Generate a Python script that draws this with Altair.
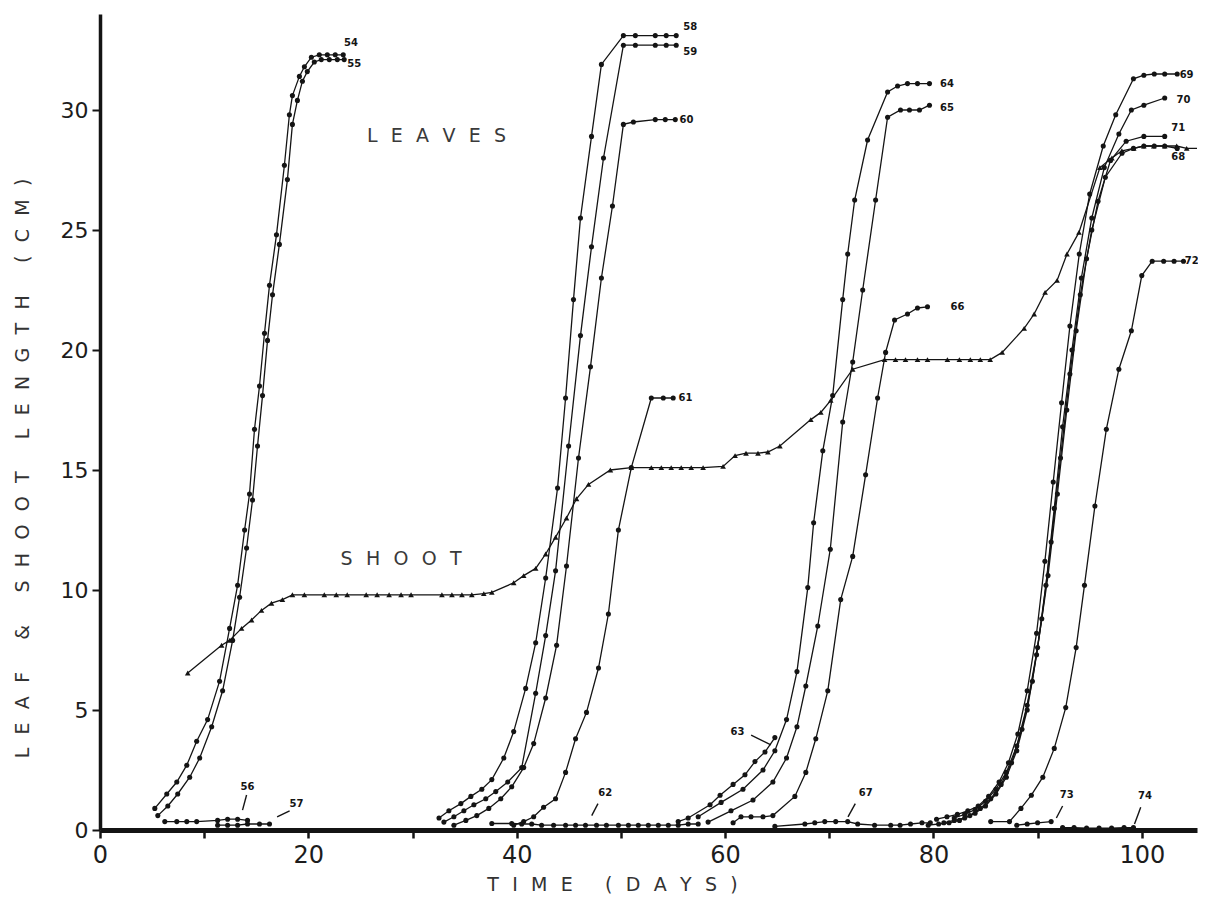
import altair as alt
import pandas as pd

# ---------------- data (day, length cm) ----------------
SHOOT = [[8.42,6.54],[11.67,7.7],[12.44,7.9],[13.59,8.4],[14.55,8.75],[15.50,9.15],[16.46,9.45],[17.51,9.6],
         [18.47,9.8],[19.62,9.8],[21.53,9.8],[22.68,9.8],[23.73,9.8],[25.55,9.8],[26.60,9.8],[27.75,9.8],
         [28.90,9.8],[29.86,9.8],[32.82,9.8],[33.78,9.8],[34.74,9.8],[35.69,9.8],[36.84,9.85],[37.61,9.9],
         [39.71,10.3],[40.67,10.6],[41.82,10.9],[42.78,11.5],[43.73,12.2],[44.78,13.0],[45.74,13.8],[46.89,14.4],
         [48.99,15.0],[51.00,15.1],[52.92,15.1],[53.88,15.1],[54.83,15.1],[55.79,15.1],[56.75,15.1],[57.89,15.1],
         [59.81,15.15],[60.96,15.6],[62.01,15.7],[63.16,15.7],[64.11,15.75],[65.26,16.0],[68.23,17.1],[69.19,17.4],
         [70.14,17.9],[72.25,19.2],[75.31,19.6],[76.36,19.6],[77.32,19.6],[78.47,19.6],[79.43,19.6],[81.34,19.6],
         [82.49,19.6],[83.54,19.6],[84.50,19.6],[85.45,19.6],[86.60,19.9],[88.71,20.9],[89.67,21.5],[90.72,22.4],
         [91.87,22.9],[92.82,24.0],[93.97,24.9],[95.98,27.6],[97.13,28.0],[98.09,28.3],[99.23,28.4],[100.19,28.5],
         [101.15,28.5],[102.20,28.5],[103.35,28.5],[104.31,28.4],[105.3,28.4]]

L54 = [[5.26,0.9],[6.41,1.5],[7.37,2.0],[8.33,2.7],[9.28,3.7],[10.33,4.6],[11.48,6.2],[12.44,8.4],[13.21,10.2],
       [13.88,12.5],[14.35,14.0],[14.83,16.7],[15.31,18.5],[15.79,20.7],[16.27,22.7],[16.94,24.8],[17.70,27.7],
       [18.18,29.8],[18.47,30.6],[19.14,31.4],[19.62,31.8],[20.29,32.2],[21.05,32.3],[21.82,32.3],[22.58,32.3],[23.35,32.3]]
L55 = [[5.55,0.6],[6.51,1.0],[7.46,1.5],[8.61,2.2],[9.57,3.0],[10.72,4.3],[11.77,5.8],[12.73,7.9],[13.40,9.7],
       [14.07,11.75],[14.64,13.75],[15.12,16.0],[15.60,18.1],[16.08,20.4],[16.56,22.3],[17.22,24.4],[17.99,27.1],
       [18.47,29.4],[18.95,30.4],[19.43,31.2],[19.90,31.6],[20.57,32.0],[21.24,32.1],[22.01,32.1],[22.78,32.1],[23.44,32.1]]
L56 = [[6.22,0.35],[7.37,0.35],[8.33,0.35],[9.28,0.35],[11.29,0.4],[12.25,0.45],[13.21,0.45],[14.16,0.4]]
L57 = [[11.29,0.2],[12.25,0.2],[13.21,0.2],[14.16,0.25],[15.31,0.25],[16.27,0.25]]

L58 = [[32.54,0.5],[33.49,0.8],[34.64,1.1],[35.60,1.4],[36.65,1.7],[37.61,2.1],[38.76,3.0],[39.71,4.1],[40.86,5.9],
       [41.82,7.8],[42.78,10.5],[43.92,14.25],[44.69,18.0],[45.45,22.1],[46.12,25.5],[47.18,28.9],[48.13,31.9],
       [50.24,33.1],[51.39,33.1],[53.30,33.1],[54.35,33.1],[55.31,33.1]]
L59 = [[33.01,0.33],[33.97,0.55],[34.93,0.8],[35.89,1.05],[37.03,1.3],[37.99,1.6],[39.14,2.0],[40.48,2.6],[41.82,5.7],
       [42.78,8.1],[43.73,10.8],[44.98,16.0],[46.12,20.6],[47.18,24.3],[48.33,28.0],[50.24,32.7],[51.39,32.7],
       [53.30,32.7],[54.35,32.7],[55.31,32.7]]
L60 = [[33.97,0.2],[35.12,0.4],[36.17,0.6],[37.32,0.9],[38.47,1.3],[39.52,1.8],[40.67,2.6],[41.63,3.6],[42.78,5.5],
       [43.83,7.7],[44.78,11.0],[45.93,15.5],[47.08,19.3],[48.13,23.0],[49.19,26.0],[50.24,29.4],[51.20,29.5],
       [53.30,29.6],[54.26,29.6],[55.22,29.6]]
L61 = [[39.71,0.2],[40.67,0.35],[41.63,0.55],[42.58,0.95],[43.73,1.3],[44.69,2.4],[45.65,3.8],[46.70,4.9],[47.85,6.75],
       [48.80,9.0],[49.76,12.5],[51.00,15.1],[52.92,18.0],[54.07,18.0],[55.02,18.0]]
L62 = [[37.61,0.27],[39.52,0.27],[40.48,0.25],[41.44,0.25],[42.39,0.2],[43.54,0.2],[44.69,0.2],[45.65,0.2],[46.60,0.2],
       [47.66,0.2],[48.61,0.2],[49.76,0.2],[50.72,0.2],[51.67,0.2],[52.63,0.2],[53.59,0.2],[54.55,0.2],[55.50,0.2],
       [56.46,0.25],[57.42,0.25]]

L63 = [[55.5,0.35],[56.46,0.5],[58.56,1.05],[59.52,1.45],[60.77,1.9],[61.91,2.3],[62.87,2.85],[63.83,3.25],[64.78,3.85]]
L64 = [[57.42,0.55],[59.62,1.15],[61.72,1.7],[63.64,2.5],[64.78,3.3],[65.9,4.6],[66.9,6.6],[67.94,10.1],[68.5,12.8],
       [69.38,15.8],[70.33,18.1],[71.29,22.1],[71.77,24.0],[72.44,26.25],[73.68,28.75],[75.60,30.75],[76.56,31.0],
       [77.51,31.1],[78.47,31.1],[79.62,31.1]]
L65 = [[58.37,0.33],[60.57,0.8],[62.68,1.25],[64.59,2.0],[65.9,3.0],[66.9,4.3],[67.75,6.0],[68.9,8.5],[70.1,11.7],
       [71.29,17.0],[72.25,19.5],[73.21,22.5],[74.45,26.25],[75.60,29.7],[76.84,30.0],[77.70,30.0],[78.66,30.0],[79.62,30.2]]
L66 = [[60.77,0.3],[61.53,0.55],[62.49,0.55],[63.64,0.55],[64.59,0.6],[66.70,1.4],[67.75,2.4],[68.71,3.8],[69.86,5.8],
       [71.10,9.6],[72.25,11.4],[73.49,14.8],[74.64,18.0],[75.41,19.9],[76.27,21.25],[77.51,21.5],[78.47,21.75],[79.43,21.8]]
L67 = [[64.78,0.15],[67.66,0.25],[68.61,0.3],[69.57,0.35],[70.62,0.35],[71.77,0.35],[72.73,0.25],[74.35,0.2],
       [75.9,0.2],[76.8,0.2],[77.8,0.25],[78.9,0.3],[79.7,0.3]]

L68 = [[79.5,0.2],[80.5,0.25],[81.5,0.3],[82.5,0.4],[83.5,0.6],[84.5,0.9],[85.5,1.3],[86.5,1.9],[87.5,2.8],[88.5,4.2],
       [89.5,6.2],[90.4,8.8],[91.3,12.0],[92.2,15.5],[93.1,19.0],[94.1,22.3],[95.2,25.0],[96.5,27.2],[98.1,28.2],
       [99.2,28.4],[100.2,28.5],[101.2,28.5],[102.2,28.5],[103.4,28.4]]
L69 = [[80.3,0.45],[81.3,0.55],[82.3,0.65],[83.3,0.8],[84.3,1.0],[85.3,1.4],[86.3,2.0],[87.2,2.8],[88.1,4.0],[89.0,5.8],
       [89.9,8.2],[90.7,11.2],[91.5,14.5],[92.3,17.8],[93.1,21.0],[94.0,24.0],[95.0,26.5],[96.3,28.5],[97.5,29.8],
       [99.2,31.3],[100.2,31.45],[101.2,31.5],[102.2,31.5],[103.4,31.5]]
L70 = [[81.0,0.3],[82.0,0.4],[83.0,0.5],[84.0,0.7],[85.0,1.0],[86.0,1.5],[87.0,2.2],[88.0,3.3],[89.0,5.0],[89.9,7.3],
       [90.8,10.2],[91.6,13.4],[92.4,16.8],[93.3,20.0],[94.2,23.0],[95.2,25.5],[96.4,27.6],[97.8,29.0],[99.0,30.0],
       [100.2,30.2],[102.2,30.5]]
L71 = [[82.0,0.5],[83.0,0.65],[84.0,0.85],[85.0,1.2],[86.0,1.7],[87.0,2.4],[88.0,3.5],[89.0,5.2],[90.0,7.6],[91.0,10.6],
       [91.9,14.0],[92.8,17.5],[93.7,20.8],[94.7,23.8],[95.8,26.2],[97.0,27.9],[98.5,28.7],[100.2,28.9],[102.2,28.9]]
L72 = [[85.5,0.35],[87.3,0.35],[88.4,0.9],[89.4,1.45],[90.5,2.2],[91.6,3.4],[92.7,5.1],[93.7,7.6],[94.5,10.2],[95.5,13.5],
       [96.6,16.7],[97.8,19.2],[99.0,20.8],[100.0,23.1],[101.0,23.7],[102.1,23.7],[103.1,23.7],[104.0,23.7]]
L73 = [[88.0,0.2],[89.0,0.25],[90.0,0.3],[91.3,0.35]]
L74 = [[92.4,0.1],[93.5,0.1],[94.7,0.08],[95.9,0.08],[97.1,0.08],[98.3,0.1],[99.2,0.1]]

LEAVES = {"54": L54, "55": L55, "56": L56, "57": L57, "58": L58, "59": L59, "60": L60, "61": L61,
          "62": L62, "63": L63, "64": L64, "65": L65, "66": L66, "67": L67, "68": L68, "69": L69,
          "70": L70, "71": L71, "72": L72, "73": L73, "74": L74}

TAG_TEXT = ["54", "55", "56", "57", "58", "59", "60", "61", "62", "63", "64", "65", "66", "67",
            "69", "70", "71", "68", "72", "73", "74"]
TAG_DAY = [24.1, 24.4, 14.16, 18.85, 56.65, 56.65, 56.3, 56.2, 48.5, 61.2, 81.3, 81.3, 82.3, 73.5,
           104.3, 104.0, 103.5, 103.5, 104.8, 92.8, 100.3]
TAG_CM = [32.8, 31.9, 1.8, 1.1, 33.45, 32.4, 29.6, 18.0, 1.55, 4.1, 31.1, 30.1, 21.8, 1.55,
          31.45, 30.4, 29.25, 28.05, 23.7, 1.45, 1.4]

# leader strokes: start day, start cm, end day, end cm
LEAD_D1 = [13.68, 17.0, 47.2, 62.5, 71.8, 91.8, 99.3]
LEAD_C1 = [0.83, 0.55, 0.6, 3.95, 0.55, 0.5, 0.25]
LEAD_D2 = [14.07, 18.2, 47.8, 64.4, 72.5, 92.4, 99.9]
LEAD_C2 = [1.46, 0.8, 1.1, 3.55, 1.1, 1.0, 0.95]

WORD_TEXT = ["LEAVES", "SHOOT"]
WORD_DAY = [32.3, 28.9]
WORD_CM = [28.9, 11.3]

X_TICKS = [0, 10, 20, 30, 40, 50, 60, 70, 80, 90, 100]
Y_TICKS = [0, 5, 10, 15, 20, 25, 30]

GAP = "\u2002\u2009"        # letter spacing
WORD_GAP = "\u2003\u2002\u2009"  # word spacing


def spaced(s):
    return WORD_GAP.join(GAP.join(w) for w in s.split(" "))


# ---------------- tables ----------------
leaf_rows = []
for name, pts in LEAVES.items():
    for d, c in pts:
        leaf_rows.append({"s": name, "day": d, "cm": c})
leaf_df = pd.DataFrame(leaf_rows)
shoot_df = pd.DataFrame({"day": [p[0] for p in SHOOT], "cm": [p[1] for p in SHOOT]})
tag_df = pd.DataFrame({"t": TAG_TEXT, "day": TAG_DAY, "cm": TAG_CM})
lead_df = pd.DataFrame({"day": LEAD_D1, "cm": LEAD_C1, "day2": LEAD_D2, "cm2": LEAD_C2})
word_df = pd.DataFrame({"t": [spaced(w) for w in WORD_TEXT], "day": WORD_DAY, "cm": WORD_CM})

INK = "#141414"
SX = alt.Scale(domain=[0, 105.3], nice=False, zero=False)
SY = alt.Scale(domain=[0, 34], nice=False, zero=False)
AX = alt.Axis(values=X_TICKS, labelExpr="datum.value % 20 == 0 ? datum.label : ''",
              grid=False, tickSize=8, tickWidth=2.5, tickColor=INK, domainWidth=5, domainColor=INK,
              labelFont="DejaVu Sans", labelFontSize=24, labelColor="#1c1c1c", labelPadding=5,
              labelFlush=False, labelOverlap=False,
              title=spaced("TIME (DAYS)"), titleFont="DejaVu Sans", titleFontSize=19,
              titleFontWeight="normal", titleColor="#333333", titleX=512, titleY=60,
              titleAlign="center", titleBaseline="alphabetic", titleAnchor="start")
AY = alt.Axis(values=Y_TICKS, grid=False, tickSize=8, tickWidth=2, tickColor=INK, domainWidth=3.5,
              domainColor=INK, labelFont="DejaVu Sans", labelFontSize=22, labelColor="#1c1c1c",
              labelPadding=4, labelFlush=False, labelOverlap=False,
              title=spaced("LEAF & SHOOT LENGTH (CM)"), titleFont="DejaVu Sans", titleFontSize=19,
              titleFontWeight="normal", titleColor="#333333", titleAngle=270, titleX=-78, titleY=454,
              titleAlign="center", titleBaseline="middle", titleAnchor="start")

X = alt.X("day:Q", scale=SX, axis=AX)
Y = alt.Y("cm:Q", scale=SY, axis=AY)

leaf_lines = alt.Chart(leaf_df).mark_line(color=INK, strokeWidth=1.3, clip=True).encode(
    x=X, y=Y, detail="s:N")
leaf_pts = alt.Chart(leaf_df).mark_point(filled=True, shape="circle", size=26, color=INK,
                                         opacity=1, clip=True).encode(x=X, y=Y)
shoot_line = alt.Chart(shoot_df).mark_line(color=INK, strokeWidth=1.3, clip=True).encode(x=X, y=Y)
shoot_pts = alt.Chart(shoot_df).transform_filter("datum.day < 105").mark_point(
    filled=True, shape="triangle-up", size=32, color=INK, opacity=1).encode(x=X, y=Y)
leads = alt.Chart(lead_df).mark_rule(color=INK, strokeWidth=1.4).encode(
    x=X, y=Y, x2="day2:Q", y2="cm2:Q")
tags = alt.Chart(tag_df).mark_text(font="DejaVu Sans", fontWeight="bold", fontSize=10, color=INK,
                                   align="center", baseline="middle").encode(x=X, y=Y, text="t:N")
words = alt.Chart(word_df).mark_text(font="DejaVu Sans", fontSize=19, color="#3a3a3a",
                                     align="center", baseline="middle").encode(x=X, y=Y, text="t:N")

chart = alt.layer(leaf_lines, shoot_line, leaf_pts, shoot_pts, leads, tags, words).properties(
    width=1097, height=816,
    padding={"left": 92, "top": 6, "right": 1, "bottom": 68},
    autosize=alt.AutoSizeParams(type="none"),
).configure_view(stroke=None)

chart.save("out.html", embed_options={"renderer": "svg", "actions": False})
